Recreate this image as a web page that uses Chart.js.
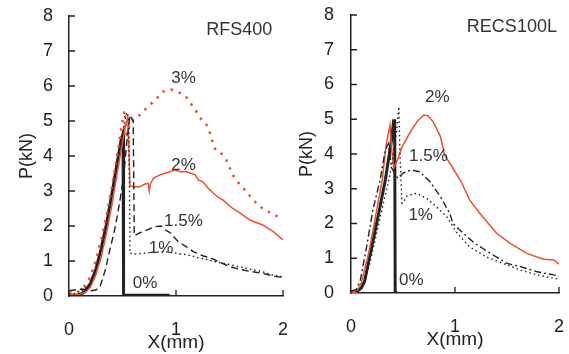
<!DOCTYPE html>
<html>
<head>
<meta charset="utf-8">
<script src="https://cdn.jsdelivr.net/npm/chart.js@4/dist/chart.umd.min.js"></script>
<style>
  html, body { margin: 0; padding: 0; background: #fff; }
  #wrap { position: relative; width: 569px; height: 354px; overflow: hidden; }
  #leftChart { position: absolute; left: 0; top: 0; }
  #rightChart { position: absolute; left: 285px; top: 0; }
</style>
</head>
<body>
<div id="wrap">
  <canvas id="leftChart" width="295" height="354"></canvas>
  <canvas id="rightChart" width="284" height="354"></canvas>
</div>
<script>
// tick values
var xTicks = [0, 1, 2];
var yTicks = [0, 1, 2, 3, 4, 5, 6, 7, 8];

// RFS400 (left panel)
var rfs0X = [0, 0.08, 0.14, 0.2, 0.25, 0.3, 0.35, 0.4, 0.45, 0.49, 0.505, 0.51, 0.94];
var rfs0Y = [0, 0.02, 0.1, 0.35, 0.75, 1.35, 2.05, 2.9, 3.8, 4.5, 4.63, 0.02, 0.02];

var rfs1X = [0, 0.1, 0.18, 0.25, 0.3, 0.35, 0.4, 0.45, 0.5, 0.54, 0.56, 0.57, 0.62, 0.7, 0.8, 0.9, 1.0, 1.1, 1.2, 1.3, 1.4, 1.5, 1.6, 1.7, 1.8, 1.9, 2.0];
var rfs1Y = [0.05, 0.08, 0.3, 0.75, 1.3, 2.0, 2.85, 3.8, 4.7, 5.25, 5.0, 1.22, 1.2, 1.22, 1.25, 1.27, 1.22, 1.18, 1.1, 1.03, 0.96, 0.9, 0.83, 0.76, 0.7, 0.6, 0.55];

var rfs15X = [0, 0.12, 0.2, 0.25, 0.29, 0.34, 0.38, 0.42, 0.45, 0.48, 0.51, 0.54, 0.57, 0.6, 0.61, 0.66, 0.73, 0.8, 0.86, 0.9, 0.95, 1.02, 1.1, 1.16, 1.25, 1.32, 1.4, 1.5, 1.6, 1.7, 1.8, 1.9, 2.0];
var rfs15Y = [0.15, 0.2, 0.15, 0.17, 0.27, 0.75, 1.3, 1.8, 2.27, 2.8, 3.4, 4.4, 5.17, 5.0, 1.72, 1.8, 1.89, 1.98, 2.0, 1.89, 1.8, 1.55, 1.4, 1.27, 1.15, 1.09, 0.98, 0.84, 0.76, 0.7, 0.65, 0.58, 0.52];

var rfs2X = [0, 0.1, 0.15, 0.2, 0.25, 0.3, 0.35, 0.4, 0.45, 0.5, 0.53, 0.55, 0.57, 0.6, 0.66, 0.71, 0.74, 0.75, 0.76, 0.79, 0.85, 0.94, 0.99, 1.04, 1.1, 1.18, 1.21, 1.25, 1.3, 1.38, 1.44, 1.53, 1.6, 1.69, 1.81, 1.91, 2.0];
var rfs2Y = [0.05, 0.05, 0.1, 0.25, 0.6, 1.1, 1.8, 2.6, 3.5, 4.4, 4.9, 5.1, 3.15, 3.12, 3.12, 3.2, 3.22, 3.0, 3.2, 3.37, 3.46, 3.55, 3.6, 3.55, 3.55, 3.46, 3.31, 3.27, 3.08, 2.85, 2.74, 2.5, 2.37, 2.17, 2.03, 1.84, 1.6];

var rfs3X = [0, 0.08, 0.15, 0.2, 0.25, 0.3, 0.35, 0.4, 0.45, 0.5, 0.52, 0.54, 0.57, 0.62, 0.7, 0.77, 0.82, 0.88, 0.96, 1.04, 1.1, 1.19, 1.24, 1.3, 1.35, 1.37, 1.41, 1.47, 1.53, 1.6, 1.66, 1.72, 1.81, 1.9, 2.0];
var rfs3Y = [0.1, 0.1, 0.3, 0.55, 1.0, 1.6, 2.3, 3.1, 4.0, 5.0, 5.3, 4.5, 5.0, 5.05, 5.3, 5.5, 5.65, 5.84, 5.9, 5.8, 5.67, 5.27, 5.03, 4.84, 4.31, 4.17, 4.12, 3.89, 3.46, 3.17, 2.98, 2.74, 2.5, 2.35, 2.2];

// RECS100L (right panel)
var recs0X = [0, 0.04, 0.1, 0.13, 0.2, 0.26, 0.33, 0.39, 0.41, 0.42, 0.425, 0.45];
var recs0Y = [0, 0, 0.15, 0.33, 1.33, 2.2, 3.25, 4.4, 4.96, 4.96, 0, 0];

var recs1X = [0, 0.05, 0.1, 0.15, 0.2, 0.26, 0.32, 0.36, 0.4, 0.44, 0.46, 0.47, 0.49, 0.5, 0.54, 0.63, 0.73, 0.82, 0.92, 1.02, 1.14, 1.3, 1.46, 1.63, 1.79, 1.95, 2.0];
var recs1Y = [0.05, 0.05, 0.15, 0.5, 1.1, 1.9, 2.7, 3.2, 3.8, 4.7, 5.36, 4.1, 2.58, 2.6, 2.8, 2.87, 2.72, 2.48, 2.2, 1.72, 1.33, 1.04, 0.85, 0.66, 0.52, 0.42, 0.4];

var recs15X = [0, 0.05, 0.09, 0.15, 0.21, 0.28, 0.33, 0.36, 0.39, 0.45, 0.5, 0.58, 0.66, 0.76, 0.86, 0.95, 0.98, 1.08, 1.19, 1.34, 1.5, 1.63, 1.79, 1.95, 2.0];
var recs15Y = [0.05, 0.1, 0.37, 1.33, 2.39, 3.25, 4.12, 4.3, 3.6, 3.3, 3.45, 3.54, 3.49, 3.2, 2.77, 2.29, 2.0, 1.72, 1.43, 1.14, 0.85, 0.76, 0.61, 0.52, 0.5];

var recs2X = [0, 0.05, 0.1, 0.17, 0.23, 0.3, 0.34, 0.375, 0.39, 0.41, 0.45, 0.49, 0.58, 0.64, 0.7, 0.74, 0.79, 0.86, 0.9, 0.98, 1.06, 1.14, 1.24, 1.4, 1.53, 1.69, 1.85, 1.95, 2.0];
var recs2Y = [0, 0.02, 0.3, 1.15, 2.1, 3.25, 4.3, 4.83, 4.2, 3.59, 3.85, 4.2, 4.69, 4.95, 5.12, 5.1, 4.93, 4.5, 3.97, 3.59, 3.2, 2.68, 2.29, 1.72, 1.43, 1.14, 0.97, 0.95, 0.83];

var RED = '#f04e30';
var INK = '#222';
var FONT = '"Liberation Sans", Arial, sans-serif';

function pts(xs, ys) {
    return xs.map(function (x, i) { return { x: x, y: ys[i] }; });
}

function line(xs, ys, color, width, dash) {
    return {
        data: pts(xs, ys),
        borderColor: color,
        borderWidth: width,
        borderDash: dash,
        pointRadius: 0,
        tension: 0,
        fill: false
    };
}

// small tick marks pointing into the plot + text labels in data coords
var panelDecor = {
    id: 'panelDecor',
    afterDatasetsDraw: function (chart, args, opts) {
        var ctx = chart.ctx;
        var xs = chart.scales.x, ys = chart.scales.y;
        var area = chart.chartArea;
        ctx.save();
        ctx.strokeStyle = INK;
        ctx.lineWidth = 1.3;
        ctx.beginPath();
        xTicks.forEach(function (v) {
            if (v === 0) return;
            var px = xs.getPixelForValue(v);
            ctx.moveTo(px, area.bottom);
            ctx.lineTo(px, area.bottom - 6);
        });
        yTicks.forEach(function (v) {
            if (v === 0) return;
            var py = ys.getPixelForValue(v);
            ctx.moveTo(area.left, py);
            ctx.lineTo(area.left + 6, py);
        });
        ctx.stroke();

        ctx.fillStyle = '#333';
        ctx.textBaseline = 'middle';
        opts.items.forEach(function (it) {
            ctx.font = it.size + 'px ' + FONT;
            ctx.textAlign = it.align || 'center';
            ctx.fillText(it.text, xs.getPixelForValue(it.x), ys.getPixelForValue(it.y));
        });
        ctx.restore();
    }
};

function makeChart(id, datasets, cfg) {
    return new Chart(document.getElementById(id), {
        type: 'line',
        data: { datasets: datasets },
        plugins: [panelDecor],
        options: {
            responsive: false,
            animation: false,
            layout: { padding: { left: 0, right: cfg.padRight, top: cfg.padTop, bottom: 0 } },
            plugins: {
                legend: { display: false },
                tooltip: { enabled: false },
                panelDecor: { items: cfg.items }
            },
            scales: {
                x: {
                    type: 'linear',
                    min: 0,
                    max: 2,
                    afterFit: function (s) { s.height = cfg.xHeight; },
                    afterBuildTicks: function (s) { s.ticks = xTicks.map(function (v) { return { value: v }; }); },
                    ticks: { padding: 0, color: INK, font: { family: FONT, size: 18 } },
                    // invisible ticks only push the labels away from the axis
                    grid: { drawOnChartArea: false, drawTicks: true, tickLength: cfg.xPad, tickColor: 'rgba(0,0,0,0)' },
                    border: { color: INK, width: 1.5 },
                    title: {
                        display: true,
                        text: 'X(mm)',
                        color: INK,
                        font: { family: FONT, size: 19 },
                        padding: { top: 0, bottom: cfg.xTitlePad }
                    }
                },
                y: {
                    type: 'linear',
                    min: 0,
                    max: 8,
                    afterFit: function (s) { s.width = cfg.yWidth; },
                    afterBuildTicks: function (s) { s.ticks = yTicks.map(function (v) { return { value: v }; }); },
                    ticks: { padding: 0, color: INK, font: { family: FONT, size: 18 } },
                    grid: { drawOnChartArea: false, drawTicks: true, tickLength: cfg.yPad, tickColor: 'rgba(0,0,0,0)' },
                    border: { color: INK, width: 1.5 },
                    title: {
                        display: true,
                        text: 'P(kN)',
                        color: INK,
                        font: { family: FONT, size: 18 },
                        padding: { top: cfg.yTitlePad, bottom: 0 }
                    }
                }
            }
        }
    });
}

makeChart('leftChart', [
    line(rfs1X, rfs1Y, INK, 1.4, [1.5, 3]),
    line(rfs15X, rfs15Y, INK, 1.4, [7, 4]),
    line(rfs3X, rfs3Y, RED, 2.5, [2.5, 6]),
    line(rfs2X, rfs2Y, RED, 1.5, []),
    line(rfs0X, rfs0Y, INK, 3, [])
], {
    padRight: 12, padTop: 16, xHeight: 58, yWidth: 69,
    xPad: 23, yPad: 16, xTitlePad: 0, yTitlePad: 16,
    items: [
        { text: 'RFS400', x: 1.9, y: 7.6, size: 18, align: 'right' },
        { text: '3%', x: 1.07, y: 6.23, size: 17 },
        { text: '2%', x: 1.07, y: 3.74, size: 17 },
        { text: '1.5%', x: 1.07, y: 2.14, size: 17 },
        { text: '1%', x: 0.86, y: 1.37, size: 17 },
        { text: '0%', x: 0.71, y: 0.37, size: 17 }
    ]
});

makeChart('rightChart', [
    line(recs1X, recs1Y, INK, 1.4, [1.5, 3]),
    line(recs15X, recs15Y, INK, 1.4, [7, 3, 2, 3]),
    line(recs2X, recs2Y, RED, 1.5, []),
    line(recs0X, recs0Y, INK, 3, [])
], {
    padRight: 10, padTop: 15, xHeight: 61, yWidth: 66,
    xPad: 23, yPad: 17, xTitlePad: 3, yTitlePad: 11,
    items: [
        { text: 'RECS100L', x: 1.98, y: 7.65, size: 18, align: 'right' },
        { text: '2%', x: 0.83, y: 5.64, size: 17 },
        { text: '1.5%', x: 0.745, y: 3.94, size: 17 },
        { text: '1%', x: 0.67, y: 2.24, size: 17 },
        { text: '0%', x: 0.58, y: 0.37, size: 17 }
    ]
});
</script>
</body>
</html>
